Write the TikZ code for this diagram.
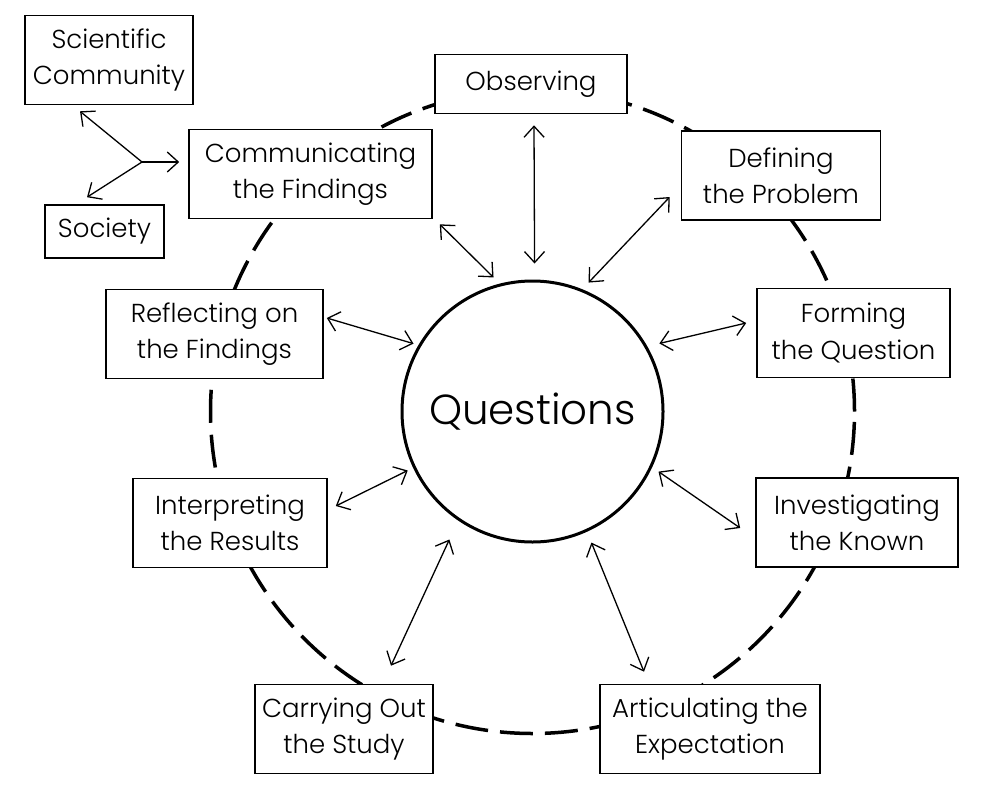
\documentclass[tikz,border=0pt]{standalone}
\usepackage{fontspec}
\setmainfont{Poppins Light}
\usetikzlibrary{arrows.meta}

\begin{document}
\begin{tikzpicture}[
  x=1pt, y=1pt,
  box/.style={draw, line width=1.6pt, fill=white, align=center, inner sep=0pt,
              font=\fontsize{26}{36}\selectfont, minimum height=89},
  arr/.style={{Straight Barb[length=11,width=20]}-{Straight Barb[length=11,width=20]}, line width=1.3pt},
  one/.style={-{Straight Barb[length=11,width=20]}, line width=1.3pt},
  ring/.style={line width=3.5pt, dash pattern=on 33 off 12},
]
\useasboundingbox (0,0) rectangle (984,-811);
\node[circle, draw, line width=3pt, minimum size=261, inner sep=0pt,
      font=\fontsize{42}{50}\selectfont] (q) at (532.5,-411.5) {Questions};
\draw[ring] (q.center) circle[radius=322];
\node[box, minimum width=192, minimum height=59] (obs) at (531,-84) {Observing};
\node[box, minimum width=199] (def) at (781,-175.5) {Defining\\the Problem};
\node[box, minimum width=193] (form) at (853.5,-333) {Forming\\the Question};
\node[box, minimum width=202] (inv) at (857,-522.5) {Investigating\\the Known};
\node[box, minimum width=220] (art) at (710,-729) {Articulating the\\Expectation};
\node[box, minimum width=178] (car) at (344,-729) {Carrying Out\\the Study};
\node[box, minimum width=194] (intp) at (230,-523) {Interpreting\\the Results};
\node[box, minimum width=217] (refl) at (214.5,-334) {Reflecting on\\the Findings};
\node[box, minimum width=243] (comm) at (310.5,-174) {Communicating\\the Findings};
\node[box, minimum width=168] (sci) at (109,-60) {Scientific\\Community};
\node[box, minimum width=119, minimum height=53] (soc) at (104.5,-231.5) {Society};
% arrows to the centre
\draw[arr] ([shift={(3,-11)}]obs.south) -- ([shift={(89.2:148)}]q.center);
\draw[arr] ([shift={(-11,-21.5)}]def.west) -- ([shift={(66.5:140.6)}]q.center);
\draw[arr] ([shift={(-10,10)}]form.west) -- ([shift={(28.2:144)}]q.center);
\draw[arr] ([shift={(-15,-5.5)}]inv.west) -- ([shift={(-25.5:139.6)}]q.center);
\draw[arr] ([shift={(-66,12)}]art.north) -- ([shift={(294.2:143.7)}]q.center);
\draw[arr] ([shift={(47,18)}]car.north) -- ([shift={(237:152.6)}]q.center);
\draw[arr] ([shift={(8,17)}]intp.east) -- ([shift={(205.3:138)}]q.center);
\draw[arr] ([shift={(3,16)}]refl.east) -- ([shift={(150.3:137)}]q.center);
\draw[arr] ([shift={(7,-5)}]comm.south east) -- ([shift={(106.2:139.6)}]q.center);
% sharing the findings
\coordinate (split) at (142,-162);
\draw[one] (split) -- ([shift={(-9,12)}]comm.west);
\draw[one] (split) -- ([shift={(-29,-6)}]sci.south);
\draw[one] (split) -- ([shift={(-17.5,7)}]soc.north);
\end{tikzpicture}
\end{document}
